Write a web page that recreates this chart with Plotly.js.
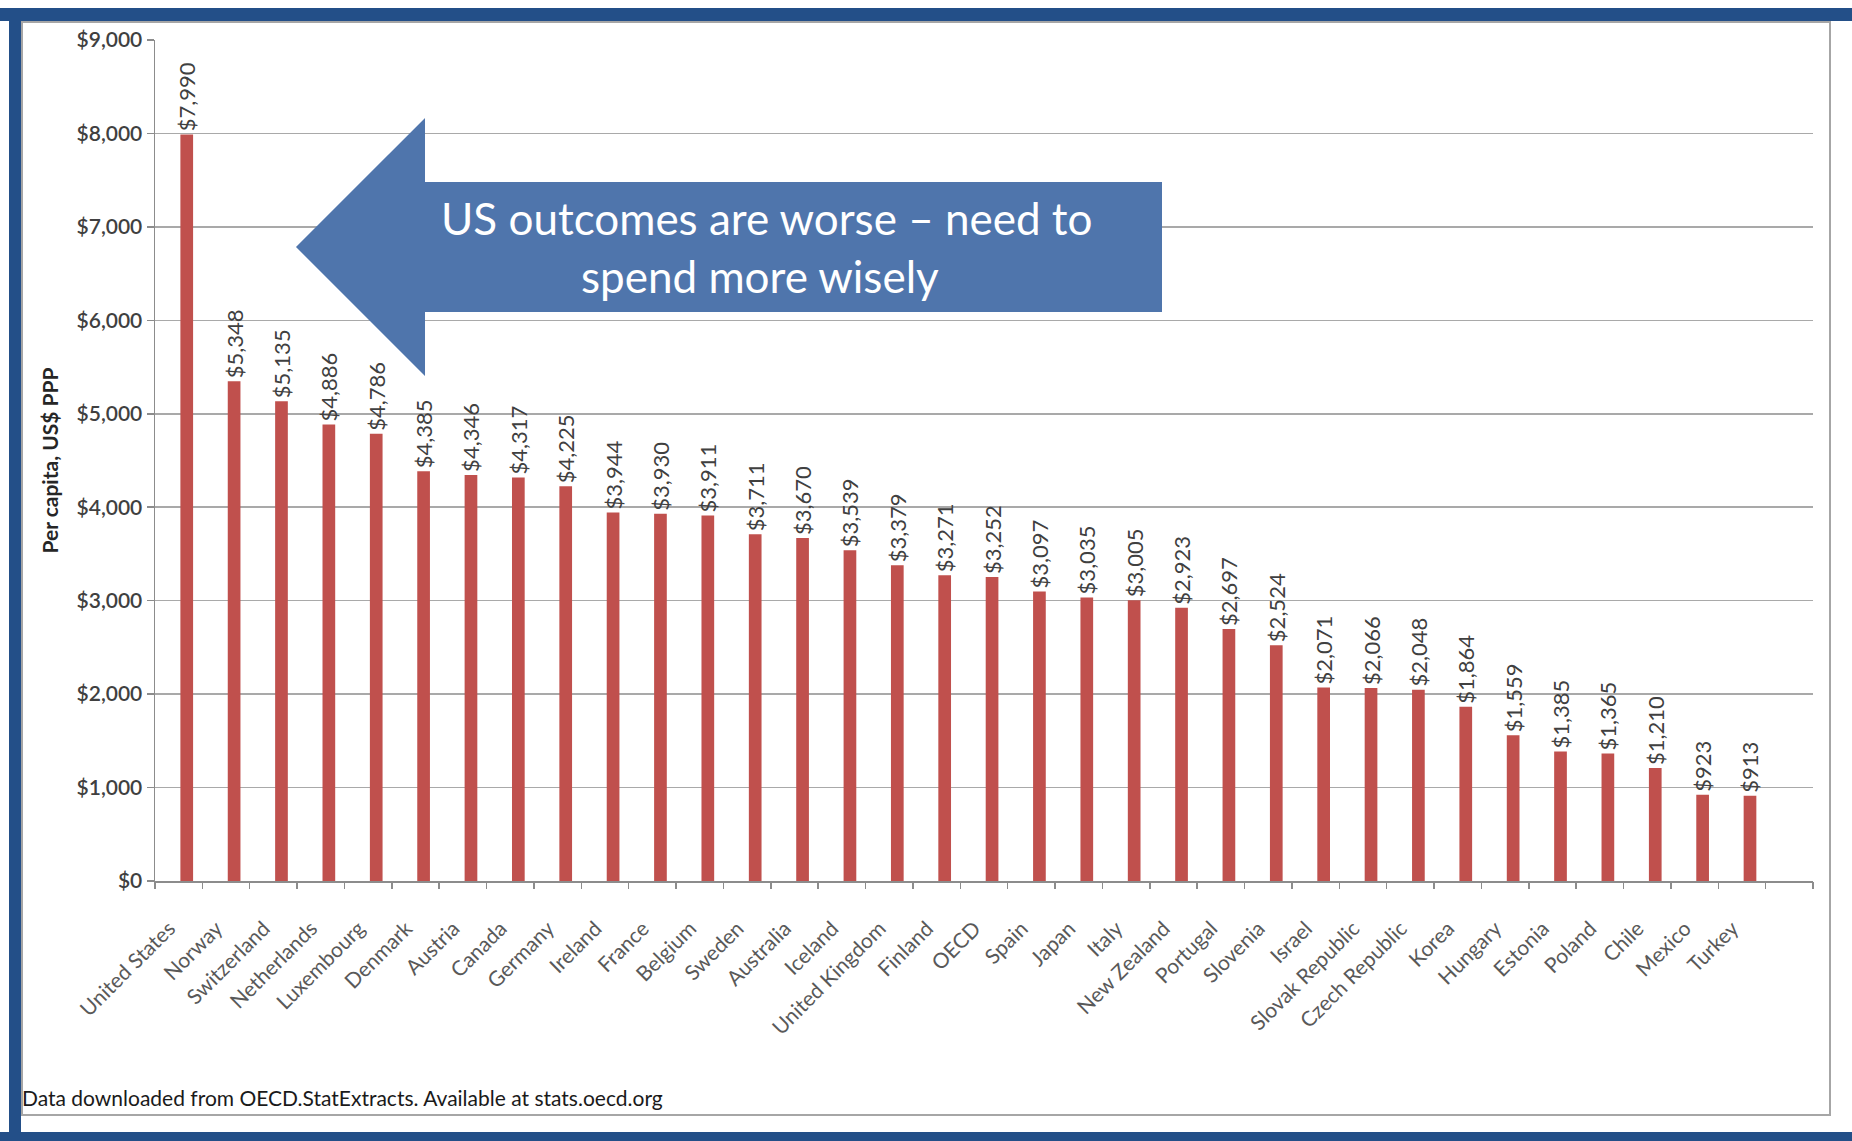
<!DOCTYPE html>
<html>
<head>
<meta charset="utf-8">
<script src="https://cdn.plot.ly/plotly-3.0.1.min.js"></script>
<style>
  html, body { margin: 0; padding: 0; background: #ffffff; }
  #chart { width: 1852px; height: 1141px; }
</style>
</head>
<body>
<div id="chart"></div>
<script>
// ---- Data ----
const countries = [
  "United States", "Norway", "Switzerland", "Netherlands", "Luxembourg",
  "Denmark", "Austria", "Canada", "Germany", "Ireland", "France", "Belgium",
  "Sweden", "Australia", "Iceland", "United Kingdom", "Finland", "OECD",
  "Spain", "Japan", "Italy", "New Zealand", "Portugal", "Slovenia", "Israel",
  "Slovak Republic", "Czech Republic", "Korea", "Hungary", "Estonia",
  "Poland", "Chile", "Mexico", "Turkey"
];
const spendingPerCapita = [
  7990, 5348, 5135, 4886, 4786,
  4385, 4346, 4317, 4225, 3944, 3930, 3911,
  3711, 3670, 3539, 3379, 3271, 3252,
  3097, 3035, 3005, 2923, 2697, 2524, 2071,
  2066, 2048, 1864, 1559, 1385,
  1365, 1210, 923, 913
];
const yTickValues = [0, 1000, 2000, 3000, 4000, 5000, 6000, 7000, 8000, 9000];
const yAxisTitle = "Per capita, US$ PPP";
const calloutLines = ["US outcomes are worse \u2013 need to", "spend more wisely"];
const sourceNote = "Data downloaded from OECD.StatExtracts. Available at stats.oecd.org";

// ---- Layout geometry (pixels) ----
const W = 1852, H = 1141;
const L = 155, R = 1813, T = 40, B = 881;
const px = p => (p - L) / (R - L);
const py = p => (B - p) / (B - T);

const FONT = "Lato, 'Open Sans', sans-serif";
const BLUE_FRAME = "#234f88";
const ARROW = "#4f75ac";

// category slots: one per country plus one empty slot at the end (as in the source)
const nSlots = countries.length + 1;
const slotIndex = countries.map((_, i) => i);
const labelPos = slotIndex.map(i => i - 0.2);
const boundaries = Array.from({ length: nSlots + 1 }, (_, i) => i - 0.5);
const xRange = [-0.5, nSlots - 0.5];

function rect(x0, y0, x1, y1, fill, line) {
  return {
    type: "rect", xref: "paper", yref: "paper", layer: "above",
    x0: px(x0), x1: px(x1), y0: py(y0), y1: py(y1),
    fillcolor: fill || "rgba(0,0,0,0)",
    line: line || { width: 0 }
  };
}

const arrowPts = [[296, 247], [425, 118], [425, 182], [1162, 182], [1162, 312], [425, 312], [425, 376]];
const arrowPath = "M " + arrowPts.map(p => px(p[0]).toFixed(5) + "," + py(p[1]).toFixed(5)).join(" L ") + " Z";

const trace = {
  type: "bar",
  x: slotIndex,
  y: spendingPerCapita,
  marker: { color: "#c0504d" },
  width: 0.268,
  offset: 0.036,
  texttemplate: "$%{y:,}",
  textposition: "outside",
  textangle: -90,
  constraintext: "none",
  cliponaxis: false,
  textfont: { family: FONT, size: 22, color: "#404040" },
  hoverinfo: "skip"
};

// invisible helper trace so that the boundary tick axis is drawn
const tickHelper = {
  type: "scatter", mode: "none", x: [xRange[0], xRange[1]], y: [0, 0],
  xaxis: "x2", yaxis: "y", hoverinfo: "skip", showlegend: false
};

const layout = {
  width: W, height: H,
  margin: { l: L, r: W - R, t: T, b: H - B, pad: 0 },
  paper_bgcolor: "#ffffff",
  plot_bgcolor: "#ffffff",
  showlegend: false,
  xaxis: {
    range: xRange,
    tickmode: "array",
    tickvals: labelPos,
    ticktext: countries,
    ticks: "",
    tickangle: -45,
    ticklabelstandoff: 25,
    tickfont: { family: FONT, size: 21, color: "#595959" },
    showline: true,
    linecolor: "#8c8c8c",
    linewidth: 2,
    showgrid: false,
    zeroline: false,
    automargin: false,
    fixedrange: true
  },
  xaxis2: {
    overlaying: "x",
    anchor: "y",
    side: "bottom",
    range: xRange,
    tickmode: "array",
    tickvals: boundaries,
    showticklabels: false,
    ticks: "outside",
    ticklen: 7,
    tickwidth: 1.5,
    tickcolor: "#8c8c8c",
    showline: false,
    showgrid: false,
    zeroline: false,
    automargin: false,
    fixedrange: true
  },
  yaxis: {
    range: [0, 9000],
    tickmode: "array",
    tickvals: yTickValues,
    tickformat: "$,",
    ticks: "outside",
    ticklen: 7,
    tickwidth: 1.5,
    tickcolor: "#8c8c8c",
    tickfont: { family: FONT, size: 21, color: "#404040", weight: 600 },
    showline: true,
    linecolor: "#8c8c8c",
    linewidth: 1.5,
    showgrid: true,
    gridcolor: "#a9a9a9",
    gridwidth: 1.5,
    zeroline: false,
    automargin: false,
    fixedrange: true,
    title: {
      text: yAxisTitle,
      font: { family: FONT, size: 21, color: "#262626", weight: "bold" },
      standoff: 12
    }
  },
  shapes: [
    rect(0, 8, W, 21, BLUE_FRAME),
    rect(9, 8, 21, H, BLUE_FRAME),
    rect(0, 1132, W, H, BLUE_FRAME),
    rect(22, 22, 1830, 1115, null, { color: "#a6a6a6", width: 2 }),
    {
      type: "path", xref: "paper", yref: "paper", layer: "above",
      path: arrowPath,
      fillcolor: ARROW,
      line: { width: 0 }
    }
  ],
  annotations: [
    {
      xref: "paper", yref: "paper", showarrow: false,
      x: px(766), y: py(218), xanchor: "center", yanchor: "middle",
      text: calloutLines[0],
      font: { family: FONT, size: 44, color: "#ffffff" }
    },
    {
      xref: "paper", yref: "paper", showarrow: false,
      x: px(760), y: py(276), xanchor: "center", yanchor: "middle",
      text: calloutLines[1],
      font: { family: FONT, size: 44, color: "#ffffff" }
    },
    {
      xref: "paper", yref: "paper", showarrow: false,
      x: px(20), y: py(1097), xanchor: "left", yanchor: "middle",
      text: sourceNote,
      font: { family: FONT, size: 21, color: "#1a1a1a" }
    }
  ]
};

Plotly.newPlot("chart", [trace, tickHelper], layout, { displayModeBar: false, staticPlot: true });
</script>
</body>
</html>
